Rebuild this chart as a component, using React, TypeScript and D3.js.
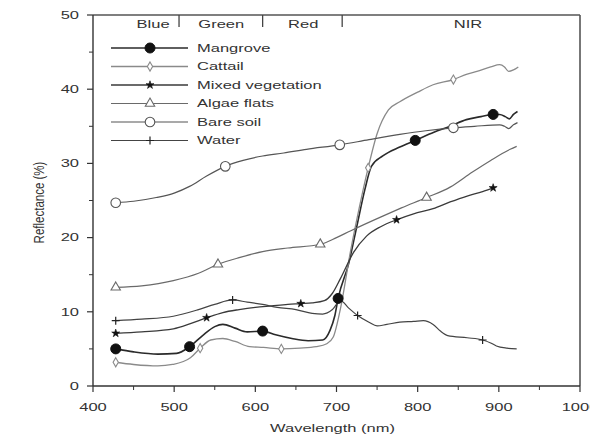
import React from "react";
import * as d3 from "d3";

const mangroveNm = [428, 450, 480, 503, 519, 535, 550, 560, 575, 590, 609, 625, 645, 665, 683, 692, 698, 702, 715, 725, 735, 743, 757, 778, 797, 820, 840, 860, 878, 893, 901, 908, 913, 918, 923];
const mangroveR = [5.0, 4.6, 4.3, 4.4, 5.3, 6.8, 8.0, 8.3, 7.8, 7.3, 7.4, 6.9, 6.4, 6.1, 6.2, 7.5, 9.5, 11.8, 16.5, 21.5, 26.5, 29.6, 31.0, 32.2, 33.1, 34.2, 35.0, 35.9, 36.3, 36.6, 36.6, 36.3, 36.0, 36.6, 37.0];
const mangroveMarks = [428, 519, 609, 702, 797, 893];

const cattailNm = [428, 450, 480, 498, 520, 532, 545, 560, 575, 593, 610, 632, 655, 675, 688, 696, 705, 717, 728, 739, 750, 764, 778, 800, 819, 844, 860, 873, 890, 901, 907, 912, 918, 924];
const cattailR = [3.2, 2.9, 2.7, 2.9, 3.8, 5.1, 6.2, 6.4, 6.0, 5.3, 5.2, 5.0, 5.1, 5.3, 5.7, 6.6, 10.5, 18.0, 24.0, 29.4, 34.0, 37.2, 38.3, 39.6, 40.6, 41.3, 42.0, 42.4, 43.0, 43.3, 43.0, 42.4, 42.6, 43.0];
const cattailMarks = [428, 532, 632, 739, 844];

const mixedNm = [428, 460, 499, 520, 540, 560, 580, 600, 620, 640, 656, 670, 685, 695, 705, 721, 737, 755, 774, 795, 819, 840, 861, 880, 893];
const mixedR = [7.1, 7.3, 7.7, 8.4, 9.2, 9.9, 10.3, 10.6, 10.8, 11.0, 11.1, 11.2, 11.5, 12.5, 14.5, 18.0, 20.2, 21.5, 22.4, 23.2, 23.9, 24.8, 25.6, 26.2, 26.7];
const mixedMarks = [428, 540, 656, 774, 893];

const algaeNm = [428, 460, 499, 530, 554, 580, 609, 640, 680, 700, 717, 757, 780, 811, 840, 867, 890, 914, 922];
const algaeR = [13.3, 13.5, 14.2, 15.2, 16.4, 17.3, 18.1, 18.6, 19.1, 20.0, 20.9, 22.9, 24.0, 25.4, 26.8, 28.8, 30.4, 31.9, 32.3];
const algaeMarks = [428, 554, 680, 811];

const soilNm = [428, 450, 478, 500, 519, 540, 563, 585, 609, 635, 663, 704, 740, 778, 810, 844, 870, 901, 907, 912, 918, 923];
const soilR = [24.7, 24.9, 25.4, 26.0, 26.9, 28.3, 29.6, 30.4, 31.0, 31.4, 31.9, 32.5, 33.2, 33.9, 34.4, 34.8, 35.0, 35.2, 35.0, 34.7, 35.2, 35.5];
const soilMarks = [428, 563, 704, 844];

const waterNm = [428, 460, 499, 530, 550, 572, 590, 609, 627, 650, 670, 683, 695, 705, 715, 726, 740, 750, 762, 778, 795, 807, 819, 828, 837, 861, 880, 890, 897, 910, 922];
const waterR = [8.8, 9.0, 9.4, 10.3, 11.0, 11.6, 11.3, 11.0, 10.6, 10.3, 9.8, 9.7, 10.3, 11.5, 10.5, 9.5, 8.6, 8.1, 8.3, 8.6, 8.7, 8.8, 8.3, 7.4, 6.8, 6.5, 6.2, 5.8, 5.4, 5.1, 5.0];
const waterMarks = [428, 572, 726, 880];

const seriesNames = ["Mangrove", "Cattail", "Mixed vegetation", "Algae flats", "Bare soil", "Water"];

const bandLabels = ["Blue", "Green", "Red", "NIR"];
const bandCenters = [474, 558, 659, 862];
const bandSeparators = [506, 609, 707];

const xTicks = [400, 500, 600, 700, 800, 900, 1000];
const yTicks = [0, 10, 20, 30, 40, 50];

const W = 590, H = 438;
const left = 93, right = 580, top = 15, bottom = 386;
const SX = 1.5;

type Kind = "filledCircle" | "diamond" | "star" | "triangle" | "openCircle" | "plus";

const series = [
  { name: seriesNames[0], nm: mangroveNm, r: mangroveR, marks: mangroveMarks, kind: "filledCircle" as Kind, color: "#2a2a2a", width: 1.6 },
  { name: seriesNames[1], nm: cattailNm, r: cattailR, marks: cattailMarks, kind: "diamond" as Kind, color: "#8a8a8a", width: 1.3 },
  { name: seriesNames[2], nm: mixedNm, r: mixedR, marks: mixedMarks, kind: "star" as Kind, color: "#3a3a3a", width: 1.3 },
  { name: seriesNames[3], nm: algaeNm, r: algaeR, marks: algaeMarks, kind: "triangle" as Kind, color: "#6a6a6a", width: 1.2 },
  { name: seriesNames[4], nm: soilNm, r: soilR, marks: soilMarks, kind: "openCircle" as Kind, color: "#555555", width: 1.2 },
  { name: seriesNames[5], nm: waterNm, r: waterR, marks: waterMarks, kind: "plus" as Kind, color: "#444444", width: 1.2 },
];

function Marker({ kind, x, y, color }: { kind: Kind; x: number; y: number; color: string }) {
  const t = `translate(${x},${y})`;
  if (kind === "filledCircle") return <circle cx={x} cy={y} r={5} fill="#111" stroke="#111" />;
  if (kind === "openCircle") return <circle cx={x} cy={y} r={4.8} fill="white" stroke={color} strokeWidth={1.1} />;
  if (kind === "diamond") return <path transform={t} d={d3.symbol(d3.symbolDiamond, 24)()!} fill="white" stroke={color} strokeWidth={1.1} />;
  if (kind === "triangle") return <path transform={t} d={d3.symbol(d3.symbolTriangle, 38)()!} fill="white" stroke={color} strokeWidth={1.1} />;
  if (kind === "star") return <path transform={t} d={d3.symbol(d3.symbolStar, 20)()!} fill="#111" stroke="#111" strokeWidth={0.6} />;
  return <path transform={t} d="M-4,0H4M0,-4V4" stroke="#222" strokeWidth={1.2} fill="none" />;
}

function Txt({ x, y, anchor = "start", children, size = 11 }: { x: number; y: number; anchor?: string; children: React.ReactNode; size?: number }) {
  return (
    <text transform={`translate(${x},${y}) scale(${SX},1)`} textAnchor={anchor} dy="0.35em" fontSize={size} fill="#333">
      {children}
    </text>
  );
}

export default function App() {
  const x = d3.scaleLinear().domain([400, 1000]).range([left, right]);
  const y = d3.scaleLinear().domain([0, 50]).range([bottom, top]);
  const line = d3.line<[number, number]>().x((d) => x(d[0])).y((d) => y(d[1])).curve(d3.curveMonotoneX);
  const font = "'Liberation Sans', Arial, sans-serif";
  const minorX = d3.range(450, 1000, 100);
  const minorY = d3.range(5, 50, 10);
  const legendY0 = 48, legendDy = 18.5;

  return (
    <svg width={W} height={H} style={{ position: "absolute", left: 0, top: 0, background: "white" }} fontFamily={font}>
      {/* frame */}
      <line x1={left} x2={right} y1={top} y2={top} stroke="#555" strokeWidth={1.4} />
      <line x1={right} x2={right} y1={top} y2={bottom} stroke="#555" strokeWidth={1.6} />
      <line x1={left} x2={left} y1={top} y2={bottom} stroke="#333" strokeWidth={1.4} />
      <line x1={left} x2={right} y1={bottom} y2={bottom} stroke="#333" strokeWidth={1.6} />

      {/* y ticks */}
      {yTicks.map((t) => (
        <g key={"y" + t}>
          <line x1={left - 6} x2={left} y1={y(t)} y2={y(t)} stroke="#333" strokeWidth={1.2} />
          <Txt x={left - 14} y={y(t)} anchor="end">{t}</Txt>
        </g>
      ))}
      {minorY.map((t) => (
        <line key={"ym" + t} x1={left - 4} x2={left} y1={y(t)} y2={y(t)} stroke="#333" strokeWidth={1} />
      ))}
      {/* x ticks */}
      {xTicks.map((t) => (
        <g key={"x" + t}>
          <line x1={x(t)} x2={x(t)} y1={bottom} y2={bottom + 6} stroke="#333" strokeWidth={1.2} />
          <Txt x={x(t)} y={bottom + 21} anchor="middle">{t}</Txt>
        </g>
      ))}
      {minorX.map((t) => (
        <line key={"xm" + t} x1={x(t)} x2={x(t)} y1={bottom} y2={bottom + 4} stroke="#333" strokeWidth={1} />
      ))}

      <Txt x={(left + right) / 2 - 4} y={428} anchor="middle">Wavelength (nm)</Txt>
      <text transform={`translate(39,${(top + bottom) / 2 + 2}) rotate(-90) scale(1,1.35)`} textAnchor="middle" dy="0.35em" fontSize={11.5} fill="#333">Reflectance (%)</text>

      {/* band labels */}
      {bandSeparators.map((b) => (
        <line key={"b" + b} x1={x(b)} x2={x(b)} y1={top} y2={top + 12} stroke="#444" strokeWidth={1.3} />
      ))}
      {bandLabels.map((b, i) => (
        <Txt key={b} x={x(bandCenters[i])} y={top + 9} anchor="middle">{b}</Txt>
      ))}

      {/* series */}
      {series.map((s) => {
        const pts: [number, number][] = s.nm.map((n, i) => [n, s.r[i]]);
        return <path key={s.name} d={line(pts)!} fill="none" stroke={s.color} strokeWidth={s.width} />;
      })}
      {series.map((s) =>
        s.marks.map((m) => {
          const i = s.nm.indexOf(m);
          return <Marker key={s.name + m} kind={s.kind} x={x(s.nm[i])} y={y(s.r[i])} color={s.color} />;
        })
      )}

      {/* legend */}
      {series.map((s, i) => {
        const ly = legendY0 + i * legendDy;
        return (
          <g key={"lg" + s.name}>
            <line x1={111} x2={188} y1={ly} y2={ly} stroke={s.color} strokeWidth={s.width} />
            <Marker kind={s.kind} x={150} y={ly} color={s.color} />
            <Txt x={197} y={ly}>{s.name}</Txt>
          </g>
        );
      })}
    </svg>
  );
}
